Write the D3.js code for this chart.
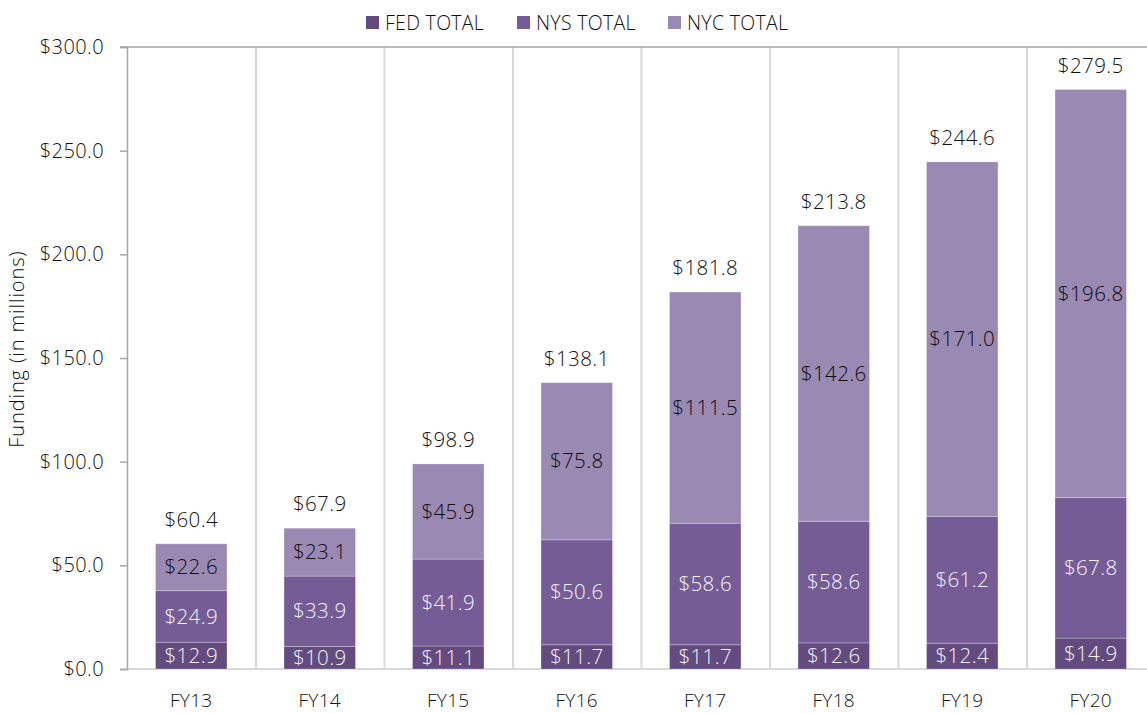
<!DOCTYPE html>
<html>
<head>
<meta charset="utf-8">
<script src="https://cdn.jsdelivr.net/npm/d3@7"></script>
<style>
  body { margin: 0; background: #fff; }
  svg { display: block; font-family: "Open Sans", "Noto Sans", sans-serif; font-weight: 300; }
</style>
</head>
<body>
<div id="wrapper"></div>
<script>
const years = ["FY13", "FY14", "FY15", "FY16", "FY17", "FY18", "FY19", "FY20"];
const fedTotal = [12.9, 10.9, 11.1, 11.7, 11.7, 12.6, 12.4, 14.9];
const nysTotal = [24.9, 33.9, 41.9, 50.6, 58.6, 58.6, 61.2, 67.8];
const nycTotal = [22.6, 23.1, 45.9, 75.8, 111.5, 142.6, 171.0, 196.8];
const seriesNames = ["FED TOTAL", "NYS TOTAL", "NYC TOTAL"];
const yTicks = [0, 50, 100, 150, 200, 250, 300];

const colors = ["#634b80", "#765c96", "#9a89b3"];
const labelColors = ["#f4f4f4", "#f4f4f4", "#0d0d0d"];
const textColor = "#111";

const width = 1147;
const height = 713;

const svg = d3.select("#wrapper")
  .append("svg")
  .attr("width", width)
  .attr("height", height);

// build rows for the stack
const rows = years.map((yr, i) => ({
  year: yr, "FED TOTAL": fedTotal[i], "NYS TOTAL": nysTotal[i], "NYC TOTAL": nycTotal[i]
}));
const stacked = d3.stack().keys(seriesNames)(rows);

const x = d3.scaleBand()
  .domain(years)
  .range([127, 1155])
  .padding(0);

const barW = x.bandwidth() * 0.556;

const y = d3.scaleLinear()
  .domain([0, 300])
  .range([669, 47]);

// vertical grid lines between categories
svg.append("g")
  .selectAll("line")
  .data(years.slice(1))
  .join("line")
  .attr("x1", d => x(d) + 0.5)
  .attr("x2", d => x(d) + 0.5)
  .attr("y1", y(300))
  .attr("y2", y(0))
  .attr("stroke", "#d9d9d9")
  .attr("stroke-width", 2);

// top line at max
svg.append("line")
  .attr("x1", 120).attr("x2", width)
  .attr("y1", y(300)).attr("y2", y(300))
  .attr("stroke", "#a6a6a6").attr("stroke-width", 1.5);

// bottom axis line
svg.append("line")
  .attr("x1", 127).attr("x2", width)
  .attr("y1", y(0)).attr("y2", y(0))
  .attr("stroke", "#d9d9d9").attr("stroke-width", 2);

// left axis
const yAxis = svg.append("g")
  .attr("transform", "translate(127,0)")
  .call(d3.axisLeft(y).tickValues(yTicks).tickSize(7).tickPadding(16)
    .tickFormat(d => "$" + d3.format(".1f")(d)));
yAxis.attr("font-family", null).attr("font-size", null);
yAxis.select(".domain").attr("stroke", "#a6a6a6").attr("stroke-width", 1.5);
yAxis.selectAll(".tick line").attr("stroke", "#a6a6a6").attr("stroke-width", 1.5);
yAxis.selectAll(".tick text")
  .attr("font-size", 20).attr("fill", textColor)
  .attr("letter-spacing", 0.4);

// y title
svg.append("text")
  .attr("transform", "translate(24,349) rotate(-90)")
  .attr("text-anchor", "middle")
  .attr("font-size", 20)
  .attr("letter-spacing", 0.9)
  .attr("fill", textColor)
  .text("Funding (in millions)");

// x labels
svg.append("g")
  .selectAll("text")
  .data(years)
  .join("text")
  .attr("x", d => x(d) + x.bandwidth() / 2)
  .attr("y", 707)
  .attr("text-anchor", "middle")
  .attr("font-size", 19)
  .attr("letter-spacing", 0.3)
  .attr("fill", textColor)
  .text(d => d);

// bars
const layers = svg.append("g")
  .selectAll("g")
  .data(stacked)
  .join("g")
  .attr("fill", (d, i) => colors[i]);

layers.selectAll("rect")
  .data(d => d)
  .join("rect")
  .attr("x", d => x(d.data.year) + (x.bandwidth() - barW) / 2)
  .attr("width", barW)
  .attr("y", d => y(d[1]))
  .attr("height", d => y(d[0]) - y(d[1]))
  .attr("stroke", "rgba(255,255,255,0.25)")
  .attr("stroke-width", 1);

// segment labels
stacked.forEach((layer, li) => {
  svg.append("g")
    .selectAll("text")
    .data(layer)
    .join("text")
    .attr("x", d => x(d.data.year) + x.bandwidth() / 2)
    .attr("y", d => (y(d[0]) + y(d[1])) / 2)
    .attr("dy", "0.35em")
    .attr("text-anchor", "middle")
    .attr("font-size", 20.5)
    .attr("letter-spacing", 0.4)
    .attr("fill", labelColors[li])
    .text(d => "$" + d3.format(".1f")(d[1] - d[0]));
});

// totals on top
const topLayer = stacked[stacked.length - 1];
svg.append("g")
  .selectAll("text")
  .data(topLayer)
  .join("text")
  .attr("x", d => x(d.data.year) + x.bandwidth() / 2)
  .attr("y", d => y(d[1]) - 17)
  .attr("text-anchor", "middle")
  .attr("font-size", 20.5)
  .attr("letter-spacing", 0.4)
  .attr("fill", textColor)
  .text(d => "$" + d3.format(".1f")(d[1]));

// legend
const legendX = [366, 517, 668];
const legend = svg.append("g")
  .selectAll("g")
  .data(seriesNames)
  .join("g")
  .attr("transform", (d, i) => `translate(${legendX[i]},16)`);
legend.append("rect")
  .attr("width", 13).attr("height", 13)
  .attr("fill", (d, i) => colors[i]);
legend.append("text")
  .attr("x", 19).attr("y", 7)
  .attr("dy", "0.35em")
  .attr("font-size", 19.5)
  .attr("letter-spacing", 0.3)
  .attr("fill", textColor)
  .text(d => d);
</script>
</body>
</html>
